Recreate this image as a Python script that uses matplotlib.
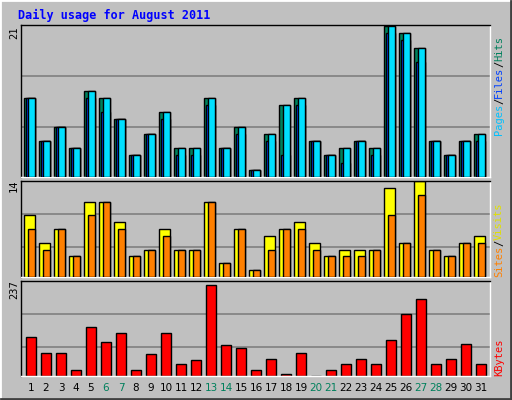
import matplotlib
matplotlib.use("Agg")
import matplotlib.pyplot as plt
from matplotlib.patches import Rectangle
import numpy as np

days = list(range(1, 32))
weekends = [6, 7, 13, 14, 20, 21, 27, 28]
hits  = [11,5,7,4,12,11,8,3,6,9,4,4,11,4,7,1,6,10,11,5,3,4,5,4,21,20,18,5,3,5,6]
files = [11,5,7,4,11,9,8,3,6,8,3,3,10,4,6,1,5,3,10,5,3,2,5,3,20,19,16,5,3,5,5]
pages = hits
sites  = [9,5,7,3,11,11,8,3,4,7,4,4,11,2,7,1,6,7,8,5,3,4,4,4,13,5,14,4,3,5,6]
visits = [7,4,7,3,9,11,7,3,4,6,4,4,11,2,7,1,4,7,7,4,3,3,3,4,9,5,12,4,3,5,5]
kbytes = [98,58,58,15,123,85,108,15,55,108,30,40,228,78,70,15,43,5,58,1,15,30,43,30,90,155,193,30,43,80,30]

W, H = 512, 400
BG = "#c0c0c0"
fig = plt.figure(figsize=(W/100, H/100), dpi=100, facecolor=BG)

# bevel border
fig.patches.append(Rectangle((0, 0), 1, 1, transform=fig.transFigure, fill=False, ec="#ffffff", lw=2))
fig.add_artist(plt.Line2D([1/W, 1-1/W], [1/H, 1/H], transform=fig.transFigure, color="#404040", lw=2))
fig.add_artist(plt.Line2D([1-1/W, 1-1/W], [1/H, 1-1/H], transform=fig.transFigure, color="#404040", lw=2))

def mkax(top, bot):
    ax = fig.add_axes([21/W, 1-bot/H, (490-21)/W, (bot-top)/H], facecolor=BG)
    ax.set_xlim(1-10/15, 1+459/15)
    ax.set_xticks([]); ax.set_yticks([])
    for s in ax.spines.values():
        s.set_color("black"); s.set_linewidth(1)
    ax.spines["right"].set_color("white"); ax.spines["bottom"].set_color("white")
    return ax

x = np.array(days)
u = 1/15  # one pixel in day units

ax1 = mkax(25, 177)
ax1.set_ylim(0, 21*151/150)
for g in (7, 14):
    ax1.axhline(g, color="#808080", lw=1.2, zorder=0)
ax1.bar(x-7*u, hits, width=11*u, align="edge", color="#00805c", ec="black", lw=1, zorder=2)
ax1.bar(x-5*u, files, width=9*u, align="edge", color="#0040ff", ec="black", lw=1, zorder=3)
ax1.bar(x-3*u, pages, width=7*u, align="edge", color="#00e0ff", ec="black", lw=1, zorder=4)

ax2 = mkax(181, 277)
ax2.set_ylim(0, 14*96/96)
for g in (4.4, 9.2):
    ax2.axhline(g, color="#808080", lw=1.2, zorder=0)
ax2.bar(x-7*u, sites, width=11*u, align="edge", color="#ffff00", ec="black", lw=1, zorder=2)
ax2.bar(x-3*u, visits, width=7*u, align="edge", color="#ff8000", ec="black", lw=1, zorder=3)

ax3 = mkax(281, 376)
ax3.set_ylim(0, 237)
for g in (73, 155):
    ax3.axhline(g, color="#808080", lw=1.2, zorder=0)
ax3.bar(x-5*u, kbytes, width=10*u, align="edge", color="#ff0000", ec="black", lw=1, zorder=2)

for d in days:
    fig.text((31+15*(d-1))/W, 1-388/H, str(d), ha="center", va="center", fontsize=7.5,
             family="DejaVu Sans", color="#00805c" if d in weekends else "black")

fig.text(18/W, 1-15/H, "Daily usage for August 2011", fontsize=8.5, family="DejaVu Sans Mono",
         weight="bold", color="#0000ff", ha="left", va="center")

for txt, yp in (("21", 33), ("14", 186), ("237", 290)):
    fig.text(14/W, 1-yp/H, txt, rotation=90, ha="center", va="center", fontsize=7.5, family="DejaVu Sans Mono")

def rlabel(parts, ybot):
    y = ybot
    for t, c in parts:
        tt = fig.text(499/W, 1-y/H, t, rotation=90, ha="center", va="bottom", fontsize=7.5,
                      family="DejaVu Sans Mono", color=c)
        y -= 6.2*len(t)

rlabel([("Pages", "#00c0ff"), ("/", "black"), ("Files", "#0040ff"), ("/", "black"), ("Hits", "#00805c")], 135)
rlabel([("Sites", "#ff8000"), ("/", "black"), ("Visits", "#e0e000")], 277)
rlabel([("KBytes", "#ff0000")], 376)

fig.savefig("out.png", dpi=100, facecolor=BG)
